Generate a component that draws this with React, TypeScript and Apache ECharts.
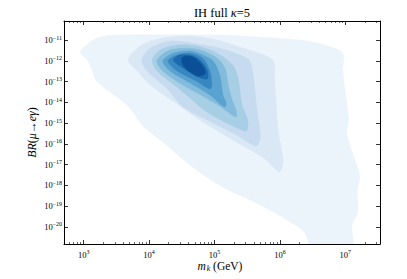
import React, { useEffect, useRef } from "react";
import * as echarts from "echarts";

// Axis extents in log10 units
const xRange = [2.7, 7.53];
const yRange = [-20.83, -10.08];
const xTicks = [3, 4, 5, 6, 7];
const yTicks = [-20, -19, -18, -17, -16, -15, -14, -13, -12, -11];
const minorSubs = [2, 3, 4, 5, 6, 7, 8, 9];
const minorDecades = [2, 3, 4, 5, 6, 7];

// Filled KDE contour levels (outer -> inner), vertices as [log10 m_k, log10 BR]
const level1 = [
  [2.95, -11.58], [3.05, -11.24], [3.21, -10.9], [3.47, -10.76], [5.04, -10.76],
  [5.7, -10.86], [6.31, -11.0], [6.69, -11.24], [6.96, -11.63], [6.96, -12.45],
  [7.02, -14.04], [7.05, -14.86], [7.02, -15.48], [7.13, -16.64], [7.22, -17.6],
  [7.18, -18.23], [7.19, -19.29], [7.1, -19.92], [7.1, -21.2], [6.52, -21.2],
  [6.37, -20.25], [6.06, -19.58], [5.76, -19.05], [5.45, -18.57], [5.15, -18.13],
  [4.79, -17.41], [4.53, -16.78], [4.23, -15.96], [3.92, -15.19], [3.73, -14.37],
  [3.57, -13.89], [3.36, -13.41], [3.19, -12.93], [3.08, -12.06],
];
const level2 = [
  [3.68, -11.96], [3.82, -11.39], [4.02, -11.05], [4.28, -10.86], [4.67, -10.81],
  [5.04, -11.0], [5.44, -11.39], [5.8, -11.77], [5.91, -12.06], [5.92, -12.93],
  [5.94, -13.89], [5.97, -15.34], [6.05, -16.78], [6.03, -17.17], [5.99, -17.36],
  [5.73, -16.64], [5.28, -15.82], [4.78, -14.86], [4.43, -14.08], [4.02, -13.17],
  [3.82, -12.49],
];
const level3 = [
  [3.89, -11.96], [4.02, -11.39], [4.32, -11.05], [4.67, -11.15], [5.08, -11.39],
  [5.39, -11.72], [5.54, -12.01], [5.6, -12.93], [5.65, -14.37], [5.7, -15.58],
  [5.68, -15.96], [5.63, -16.11], [5.28, -15.48], [4.89, -14.86], [4.52, -14.23],
  [4.28, -13.36], [3.97, -12.49],
];
const level4 = [
  [4.05, -11.96], [4.17, -11.48], [4.43, -11.24], [4.73, -11.29], [5.04, -11.63],
  [5.28, -12.21], [5.36, -12.83], [5.42, -14.13], [5.5, -14.76], [5.51, -15.19],
  [5.48, -15.39], [5.19, -15.0], [4.86, -14.42], [4.66, -13.89], [4.43, -13.27],
  [4.12, -12.49],
];
const level5 = [
  [4.12, -12.01], [4.28, -11.53], [4.52, -11.39], [4.78, -11.48], [5.04, -11.87],
  [5.16, -12.35], [5.21, -13.17], [5.27, -13.89], [5.33, -14.37], [5.33, -14.71],
  [5.08, -14.18], [4.82, -13.7], [4.52, -13.17], [4.21, -12.49],
];
const level6 = [
  [4.21, -12.01], [4.37, -11.63], [4.63, -11.53], [4.82, -11.72], [4.98, -12.01],
  [5.08, -12.69], [5.13, -13.65], [5.18, -14.08], [5.15, -14.23], [4.93, -13.65],
  [4.63, -13.07], [4.32, -12.49],
];
const level7 = [
  [4.29, -12.01], [4.43, -11.72], [4.63, -11.63], [4.82, -11.87], [4.93, -12.49],
  [4.96, -13.17], [4.93, -13.36], [4.73, -12.98], [4.43, -12.49],
];
const level8 = [
  [4.37, -11.96], [4.47, -11.72], [4.63, -11.72], [4.78, -11.96], [4.89, -12.45],
  [4.89, -12.88], [4.73, -12.74], [4.52, -12.35],
];
const level9 = [
  [4.5, -11.87], [4.58, -11.77], [4.7, -11.87], [4.81, -12.21], [4.86, -12.59],
  [4.75, -12.74], [4.63, -12.54], [4.52, -12.21],
];
const contours = [level1, level2, level3, level4, level5, level6, level7, level8, level9];
const levelColors = [
  "#ebf3fb", "#dae8f6", "#c6dbef", "#a6cee4", "#82bbdb",
  "#5aa2cf", "#3987c0", "#1c6aaf", "#0b4f96",
];

const FONT = "'Liberation Serif', 'DejaVu Serif', serif";

export default function App() {
  const ref = useRef<HTMLDivElement>(null);
  useEffect(() => {
    if (!ref.current) return;
    const chart = echarts.init(ref.current, undefined, { renderer: "svg" });
    const minorX: number[] = [];
    minorDecades.forEach((d) =>
      minorSubs.forEach((k) => {
        const v = d + Math.log10(k);
        if (v > xRange[0] && v < xRange[1]) minorX.push(v);
      })
    );
    const grid = { left: 64, right: 27, top: 21, bottom: 35 };
    const line = { show: true, lineStyle: { color: "#000", width: 1 } };
    const rich = {
      b: { fontSize: 8.5, fontFamily: FONT, color: "#000" },
      s: { fontSize: 6, fontFamily: FONT, color: "#000", padding: [0, 0, 5, 0] },
    };
    const majorX = (pos: string, labels: boolean) => ({
      gridIndex: 0,
      type: "value",
      position: pos,
      min: xRange[0],
      max: xRange[1],
      axisLine: line,
      axisTick: { show: true, inside: true, length: 4, customValues: xTicks, lineStyle: { color: "#000", width: 0.8 } },
      axisLabel: labels
        ? { show: true, customValues: xTicks, margin: 5, formatter: (v: number) => `{b|10}{s|${v}}`, rich }
        : { show: false },
      splitLine: { show: false },
    });
    const minorXAxis = (pos: string) => ({
      gridIndex: 1,
      type: "value",
      position: pos,
      min: xRange[0],
      max: xRange[1],
      axisLine: { show: false },
      axisTick: { show: true, inside: true, length: 2, customValues: minorX, lineStyle: { color: "#000", width: 0.6 } },
      axisLabel: { show: false },
      splitLine: { show: false },
    });
    const majorY = (pos: string, labels: boolean) => ({
      gridIndex: 0,
      type: "value",
      position: pos,
      min: yRange[0],
      max: yRange[1],
      axisLine: line,
      axisTick: { show: true, inside: true, length: 4, customValues: yTicks, lineStyle: { color: "#000", width: 0.8 } },
      axisLabel: labels
        ? { show: true, customValues: yTicks, margin: 2, formatter: (v: number) => `{b|10}{s|\u2212${Math.abs(v)}}`, rich }
        : { show: false },
      splitLine: { show: false },
    });
    chart.setOption({
      animation: false,
      backgroundColor: "#fff",
      grid: [grid, grid],
      xAxis: [majorX("bottom", true), majorX("top", false), minorXAxis("bottom"), minorXAxis("top")],
      yAxis: [
        majorY("left", true),
        majorY("right", false),
        { gridIndex: 1, type: "value", min: yRange[0], max: yRange[1], show: false },
      ],
      series: [
        {
          type: "custom",
          xAxisIndex: 0,
          yAxisIndex: 0,
          clip: true,
          silent: true,
          data: contours.map((c) => ({ value: [c[0][0], c[0][1]] })),
          renderItem: (params: any, api: any) => {
            const i = params.dataIndex;
            const pts = contours[i].map((p) => api.coord(p));
            return {
              type: "polygon",
              shape: { points: pts, smooth: 0.3 },
              style: { fill: levelColors[i], stroke: levelColors[i], lineWidth: 0.5 },
            };
          },
          z: 1,
        },
      ],
      graphic: [
        {
          type: "text",
          x: 222,
          y: 12.5,
          style: {
            text: "IH full {k|\u03ba}=5",
            fontSize: 12.5,
            fontFamily: FONT,
            fill: "#000",
            align: "center",
            verticalAlign: "middle",
            rich: { k: { fontSize: 12.5, fontFamily: FONT, fontStyle: "italic", fill: "#000" } },
          },
        },
        {
          type: "text",
          x: 32,
          y: 132.5,
          rotation: Math.PI / 2,
          style: {
            text: "{i|BR}({i|\u03bc}\u2192{i|e\u03b3})",
            fontSize: 12,
            fontFamily: FONT,
            fill: "#000",
            align: "center",
            verticalAlign: "middle",
            rich: { i: { fontSize: 12, fontFamily: FONT, fontStyle: "italic", fill: "#000" } },
          },
        },
        {
          type: "text",
          x: 220,
          y: 266,
          style: {
            text: "{i|m}{sub|k} (GeV)",
            fontSize: 11.5,
            fontFamily: FONT,
            fill: "#000",
            align: "center",
            verticalAlign: "middle",
            rich: {
              i: { fontSize: 11.5, fontFamily: FONT, fontStyle: "italic", fill: "#000" },
              sub: { fontSize: 7.5, fontFamily: FONT, fontStyle: "italic", fill: "#000", padding: [5, 0, 0, 1] },
            },
          },
        },
      ],
    });
    return () => chart.dispose();
  }, []);
  return (
    <div
      ref={ref}
      style={{ position: "fixed", left: 0, top: 0, width: 407, height: 279, background: "#fff" }}
    />
  );
}
